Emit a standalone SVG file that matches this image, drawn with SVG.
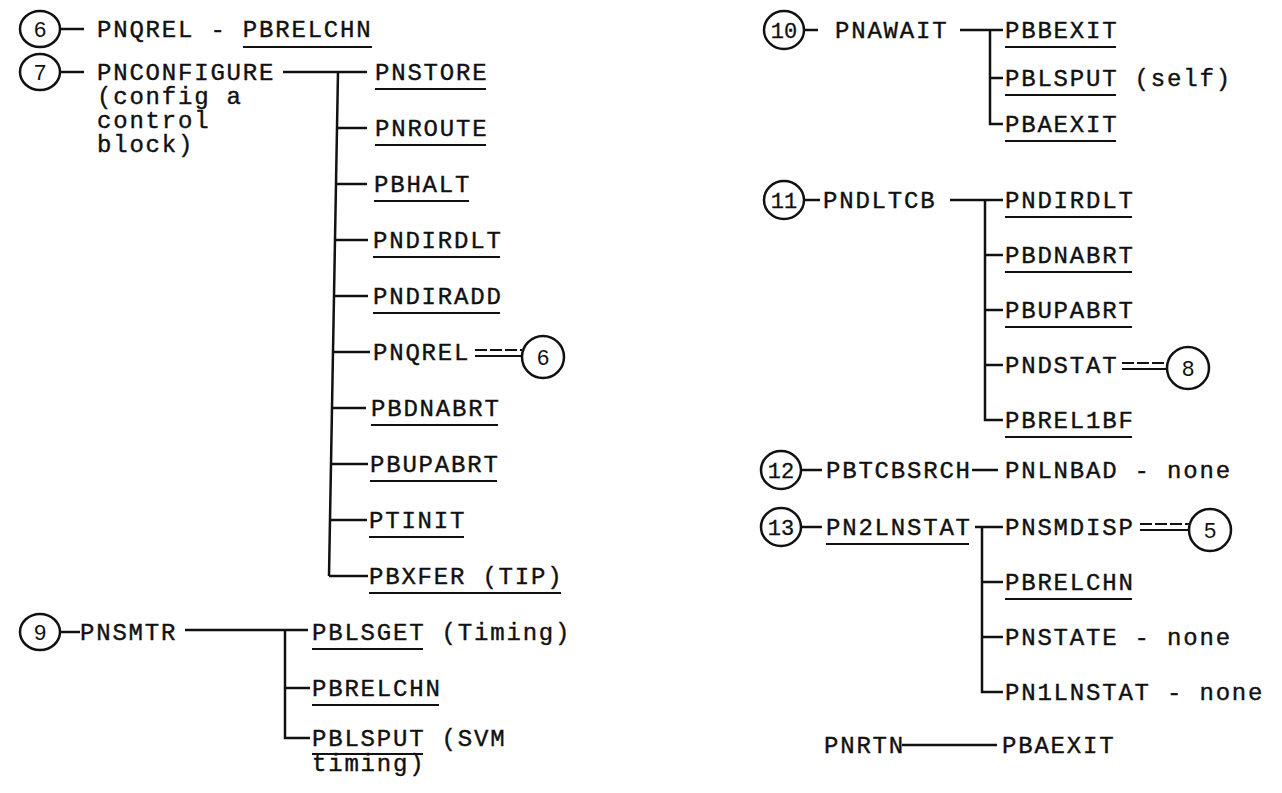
<svg xmlns="http://www.w3.org/2000/svg" width="1282" height="793" viewBox="0 0 1282 793">
<style>
.t{font-family:"Liberation Mono",monospace;font-size:24px;letter-spacing:1.8px;fill:#111;stroke:#111;stroke-width:0.4}
.n{font-family:"Liberation Sans",sans-serif;font-size:22px;fill:#111;text-anchor:middle}
.m{font-family:"Liberation Mono",monospace;font-size:22px;fill:#111;text-anchor:middle;stroke:#111;stroke-width:0.3}
.c{fill:none;stroke:#111;stroke-width:2.5}
.l{fill:none;stroke:#111;stroke-width:2.5}
.u{fill:none;stroke:#111;stroke-width:2}
.d{fill:none;stroke:#111;stroke-width:2;stroke-dasharray:12 3}
</style>
<rect width="1282" height="793" fill="#fff"/>
<g id="connectors">
<path class="l" d="M61 29H84"/>
<path class="l" d="M61 72H84"/>
<path class="l" d="M283 72H367M338 72L329 576M338 128H367M337 184H367M336 240H368M335 296H368M334 352H370M333 408H366M332 464H368M331 520H367M329 576H368"/>
<path class="d" d="M475 350H522"/><path class="u" d="M475 356H522"/>
<path class="l" d="M60 632H80"/>
<path class="l" d="M185 630H308M285 630V738H310M285 688H310"/>
<path class="l" d="M804 30H818"/>
<path class="l" d="M960 30H1003M990 30V124H1003M990 78H1003"/>
<path class="l" d="M804 200H820"/>
<path class="l" d="M950 200H1003M985 200V420H1003M985 255H1003M985 310H1003M985 365H1003"/>
<path class="d" d="M1122 363H1167"/><path class="u" d="M1122 369H1167"/>
<path class="l" d="M801 470H822M972 470H998"/>
<path class="l" d="M801 527H822"/>
<path class="l" d="M975 527H1003M982 527V692H1003M982 582H1003M982 637H1003"/>
<path class="d" d="M1140 524H1189"/><path class="u" d="M1140 530H1189"/>
<path class="l" d="M902 745H997"/>
</g>
<g id="n6"><ellipse class="c" cx="40" cy="29" rx="20" ry="18"/><text class="n" x="40" y="37">6</text><text class="t" x="97" y="37">PNQREL - PBRELCHN</text><path class="u" d="M243 47H372"/></g>
<g id="n7"><ellipse class="c" cx="40" cy="72" rx="20" ry="18"/><text class="n" x="40" y="80">7</text><text class="t" x="97" y="80">PNCONFIGURE</text><text class="t" x="97" y="104">(config a</text><text class="t" x="97" y="128">control</text><text class="t" x="97" y="152">block)</text></g>
<g id="n7c">
<text class="t" x="375" y="80">PNSTORE</text><path class="u" d="M375 89H486"/>
<text class="t" x="375" y="136">PNROUTE</text><path class="u" d="M375 145H486"/>
<text class="t" x="374" y="192">PBHALT</text><path class="u" d="M374 201H469"/>
<text class="t" x="373" y="248">PNDIRDLT</text><path class="u" d="M373 257H500"/>
<text class="t" x="373" y="304">PNDIRADD</text><path class="u" d="M373 313H500"/>
<text class="t" x="373" y="360">PNQREL</text>
<text class="t" x="371" y="416">PBDNABRT</text><path class="u" d="M371 425H498"/>
<text class="t" x="370" y="472">PBUPABRT</text><path class="u" d="M370 481H497"/>
<text class="t" x="369" y="528">PTINIT</text><path class="u" d="M369 537H464"/>
<text class="t" x="369" y="584">PBXFER (TIP)</text><path class="u" d="M369 593H561"/>
</g>
<g id="r6"><ellipse class="c" cx="543" cy="357" rx="21" ry="21"/><text class="n" x="543" y="365">6</text></g>
<g id="n9"><ellipse class="c" cx="40" cy="632" rx="20" ry="18"/><text class="n" x="40" y="640">9</text><text class="t" x="80" y="640">PNSMTR</text>
<text class="t" x="312" y="640">PBLSGET (Timing)</text><path class="u" d="M312 649H423"/>
<text class="t" x="312" y="746">PBLSPUT (SVM</text><path class="u" d="M312 754H423"/>
<text class="t" x="312" y="696">PBRELCHN</text><path class="u" d="M312 705H439"/>
<text class="t" x="312" y="771">timing)</text></g>
<g id="n10"><ellipse class="c" cx="784" cy="30" rx="20" ry="19"/><text class="m" x="784" y="38">10</text><text class="t" x="835" y="38">PNAWAIT</text>
<text class="t" x="1005" y="38">PBBEXIT</text><path class="u" d="M1005 47H1116"/>
<text class="t" x="1005" y="86">PBLSPUT (self)</text><path class="u" d="M1005 95H1116"/>
<text class="t" x="1005" y="132">PBAEXIT</text><path class="u" d="M1005 141H1116"/></g>
<g id="n11"><ellipse class="c" cx="784" cy="200" rx="20" ry="19"/><text class="m" x="784" y="208">11</text><text class="t" x="823" y="208">PNDLTCB</text>
<text class="t" x="1005" y="208">PNDIRDLT</text><path class="u" d="M1005 217H1132"/>
<text class="t" x="1005" y="263">PBDNABRT</text><path class="u" d="M1005 272H1132"/>
<text class="t" x="1005" y="318">PBUPABRT</text><path class="u" d="M1005 327H1132"/>
<text class="t" x="1005" y="373">PNDSTAT</text>
<text class="t" x="1005" y="428">PBREL1BF</text><path class="u" d="M1005 437H1132"/></g>
<g id="r8"><ellipse class="c" cx="1188" cy="368" rx="21" ry="21"/><text class="n" x="1188" y="376">8</text></g>
<g id="n12"><ellipse class="c" cx="781" cy="470" rx="20" ry="19"/><text class="m" x="781" y="478">12</text><text class="t" x="826" y="478">PBTCBSRCH</text><text class="t" x="1005" y="478">PNLNBAD - none</text></g>
<g id="n13"><ellipse class="c" cx="781" cy="527" rx="20" ry="19"/><text class="m" x="781" y="535">13</text><text class="t" x="826" y="535">PN2LNSTAT</text><path class="u" d="M826 544H969"/>
<text class="t" x="1005" y="535">PNSMDISP</text>
<text class="t" x="1005" y="590">PBRELCHN</text><path class="u" d="M1005 599H1132"/>
<text class="t" x="1005" y="645">PNSTATE - none</text>
<text class="t" x="1005" y="700">PN1LNSTAT - none</text></g>
<g id="r5"><ellipse class="c" cx="1210" cy="530" rx="21" ry="21"/><text class="n" x="1210" y="538">5</text></g>
<g id="nrtn"><text class="t" x="824" y="753">PNRTN</text><text class="t" x="1002" y="753">PBAEXIT</text></g>
</svg>
